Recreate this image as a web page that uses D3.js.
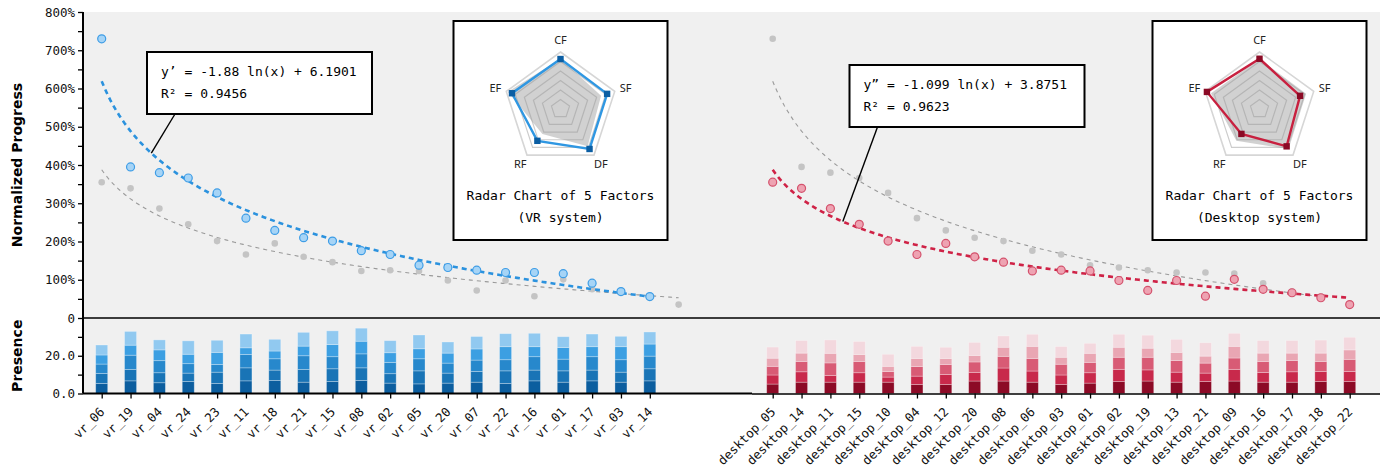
<!DOCTYPE html>
<html>
<head>
<meta charset="utf-8">
<script src="https://cdn.jsdelivr.net/npm/d3@7"></script>
<style>
  body { margin: 0; background: #fff; }
  svg { display: block; }
</style>
</head>
<body>
<svg id="chart"></svg>
<script>
// participants, ordered as on the x axis
const vrNames = ['vr_06', 'vr_19', 'vr_04', 'vr_24', 'vr_23', 'vr_11', 'vr_18', 'vr_21', 'vr_15', 'vr_08',
    'vr_02', 'vr_05', 'vr_20', 'vr_07', 'vr_22', 'vr_16', 'vr_01', 'vr_17', 'vr_03', 'vr_14']
const deskNames = ['desktop_05', 'desktop_14', 'desktop_11', 'desktop_15', 'desktop_10', 'desktop_04', 'desktop_12',
    'desktop_20', 'desktop_08', 'desktop_06', 'desktop_03', 'desktop_01', 'desktop_02', 'desktop_19', 'desktop_13',
    'desktop_21', 'desktop_09', 'desktop_16', 'desktop_17', 'desktop_18', 'desktop_22']

// normalized progress (%)
const vrProgress = [730, 395, 380, 366, 327, 261, 229, 210, 201, 176, 166, 138, 132, 125, 119, 119, 116, 91, 69, 56]
const deskProgress = [355, 339, 286, 245, 201, 166, 195, 160, 146, 123, 125, 123, 98, 72, 98, 57, 101, 75, 66, 53, 35]

// log fits y = a ln(x) + b  (shown in the callouts)
const vrFit = [-1.88, 6.1901, 0.9456]
const deskFit = [-1.099, 3.8751, 0.9623]

// presence, 5 stacked parts per participant (bottom -> top)
const vrPresence = [
    [5.3, 5.3, 5.0, 4.8, 5.3], [6.7, 6.0, 7.6, 5.3, 7.3], [5.7, 5.3, 6.4, 5.7, 5.3], [6.4, 4.4, 5.0, 5.0, 7.1],
    [5.3, 6.0, 4.1, 6.4, 6.4], [6.7, 6.9, 7.1, 3.5, 7.3], [6.9, 5.5, 6.0, 4.1, 6.2], [6.0, 6.7, 7.3, 5.1, 7.3],
    [6.4, 6.7, 6.4, 6.4, 7.3], [6.9, 6.7, 7.4, 6.7, 6.9], [5.5, 5.0, 6.0, 5.1, 6.4], [5.1, 6.9, 6.4, 5.3, 7.3],
    [5.5, 5.3, 5.3, 5.3, 5.9], [6.0, 5.7, 6.0, 5.9, 6.6], [5.3, 6.7, 5.9, 6.9, 6.9], [6.7, 5.7, 7.1, 5.3, 7.1],
    [6.0, 6.0, 6.2, 6.2, 5.7], [6.7, 5.7, 7.1, 5.3, 6.7], [6.0, 5.3, 6.6, 6.9, 5.5], [6.7, 6.4, 6.7, 6.4, 6.4]
]
const deskPresence = [
    [5.0, 4.8, 4.6, 4.3, 5.9], [6.0, 5.5, 5.5, 4.4, 6.7], [6.0, 3.5, 6.7, 5.1, 7.1], [6.0, 5.0, 6.0, 3.7, 6.9],
    [6.0, 2.7, 3.0, 2.7, 6.4], [4.8, 4.4, 5.1, 4.3, 6.4], [4.8, 5.3, 5.3, 3.2, 5.9], [6.6, 4.6, 5.5, 3.5, 6.9],
    [6.6, 6.9, 6.2, 4.8, 6.0], [6.0, 5.9, 6.7, 6.4, 6.4], [4.8, 5.0, 5.7, 3.7, 5.7], [5.5, 5.5, 5.5, 4.8, 5.3],
    [6.4, 6.4, 6.4, 5.3, 6.9], [6.6, 5.9, 6.7, 4.8, 6.9], [6.0, 5.3, 6.2, 4.3, 6.9], [6.4, 4.4, 5.3, 3.7, 7.1],
    [6.6, 6.2, 6.0, 6.2, 6.9], [6.0, 5.1, 5.9, 4.4, 6.7], [6.0, 5.5, 6.0, 3.9, 6.7], [6.4, 5.3, 5.3, 4.4, 6.9],
    [6.4, 5.3, 6.4, 5.0, 6.7]
]

// radar (1-7 scale)
const factors = ['CF', 'SF', 'DF', 'RF', 'EF']
const vrRadar = [6.26, 6.16, 6.2, 5.14, 6.37]
const deskRadar = [6.29, 5.49, 5.86, 4.24, 6.82]

const progressTicks = d3.range(0, 801, 50)
const presenceTicks = [0, 10, 20, 30]

const width = 1380
const height = 472
const plotLeft = 83
const plotTop = 12
const midY = 318
const baseY = 393.5
const mono = '"DejaVu Sans Mono", monospace'

const blues = ['#0c5e9f', '#1974b6', '#2788cc', '#3c9fe2', '#91c9f0']
const reds = ['#8c0a26', '#c8294b', '#d85b75', '#e9a6b3', '#f3d8de']

const svg = d3.select('#chart').attr('width', width).attr('height', height)

svg.append('rect')
    .attr('x', plotLeft).attr('y', plotTop)
    .attr('width', width - plotLeft).attr('height', baseY - plotTop)
    .attr('fill', '#f0f0f0')

const y = d3.scaleLinear().domain([0, 800]).range([midY, plotTop])
const yp = d3.scaleLinear().domain([0, 40]).range([baseY, midY])

const xVr = d3.scalePoint().domain(vrNames).range([101.7, 649.8])
const xDesk = d3.scalePoint().domain(deskNames).range([772.7, 1349.7])
// rank index scales (fits use x = 1..n)
const iVr = d3.scaleLinear().domain([1, vrNames.length]).range(xVr.range())
const iDesk = d3.scaleLinear().domain([1, deskNames.length]).range(xDesk.range())

const fitCurve = (fit, n, xs) => d3.line()
    .x(d => xs(d))
    .y(d => y(100 * (fit[0] * Math.log(d) + fit[1])))(d3.range(1, n + 0.001, 0.1))

function panel(opts) {
    const g = svg.append('g')
    // other system in gray
    g.append('path')
        .attr('d', fitCurve(opts.otherFit, opts.otherVals.length, opts.xs))
        .attr('fill', 'none').attr('stroke', '#9a9a9a').attr('stroke-width', 1.1)
        .attr('stroke-dasharray', '4,4')
    g.selectAll('.gp').data(opts.otherVals).enter().append('circle')
        .attr('cx', (d, i) => opts.xs(i + 1))
        .attr('cy', d => y(d))
        .attr('r', 3.3)
        .attr('fill', '#c4c4c4')

    g.append('path')
        .attr('d', fitCurve(opts.fit, opts.vals.length, opts.xs))
        .attr('fill', 'none').attr('stroke', opts.line).attr('stroke-width', 2.6)
        .attr('stroke-dasharray', '5,4')
    g.selectAll('.cp').data(opts.vals).enter().append('circle')
        .attr('cx', (d, i) => opts.xs(i + 1))
        .attr('cy', d => y(d))
        .attr('r', 4)
        .attr('fill', opts.dotFill)
        .attr('stroke', opts.dotStroke)
        .attr('stroke-width', 1.2)

    // callout
    const b = opts.box
    const ax = opts.xs(opts.anchor)
    const ay = y(100 * (opts.fit[0] * Math.log(opts.anchor) + opts.fit[1]))
    g.append('line')
        .attr('x1', b.x + 28).attr('y1', b.y + b.h)
        .attr('x2', ax).attr('y2', ay)
        .attr('stroke', '#000').attr('stroke-width', 1.4)
    g.append('rect')
        .attr('x', b.x).attr('y', b.y).attr('width', b.w).attr('height', b.h)
        .attr('fill', '#fff').attr('stroke', '#000').attr('stroke-width', 2)
    g.append('text')
        .attr('x', b.x + 14).attr('y', b.y + 24)
        .attr('font-family', mono).attr('font-size', 13)
        .text(`${opts.sym} = ${opts.fit[0]} ln(x) + ${opts.fit[1]}`)
    g.append('text')
        .attr('x', b.x + 14).attr('y', b.y + 46)
        .attr('font-family', mono).attr('font-size', 13)
        .text(`R² = ${opts.fit[2]}`)

    // presence bars
    const bars = g.selectAll('.bar').data(opts.presence).enter().append('g')
        .attr('transform', (d, i) => `translate(${opts.xs(i + 1) - 6},0)`)
    bars.selectAll('rect').data(d => {
        let acc = 0
        return d.map((v, k) => { const s = { y0: acc, y1: acc + v, k: k }; acc += v; return s })
    }).enter().append('rect')
        .attr('x', 0)
        .attr('width', 12)
        .attr('y', d => yp(d.y1))
        .attr('height', d => yp(d.y0) - yp(d.y1))
        .attr('fill', d => opts.stack[d.k])
        .attr('stroke', 'rgba(255,255,255,0.35)')
        .attr('stroke-width', 0.8)

    // radar
    const r = opts.radar
    const rg = g.append('g').attr('transform', `translate(${r.x},${r.y})`)
    rg.append('rect').attr('width', 214).attr('height', 219)
        .attr('fill', '#fff').attr('stroke', '#000').attr('stroke-width', 2)
    const cx = 107, cy = 88
    const rs = d3.scaleLinear().domain([1, 7]).range([0, 57])
    const ang = i => i * 2 * Math.PI / factors.length
    const pt = (v, i) => [cx + rs(v) * Math.sin(ang(i)), cy - rs(v) * Math.cos(ang(i))]
    const poly = d3.line().curve(d3.curveLinearClosed)
    d3.range(2, 8).forEach(lv => {
        rg.append('path')
            .attr('d', poly(factors.map((f, i) => pt(lv, i))))
            .attr('fill', 'none')
            .attr('stroke', lv === 7 ? '#d6d6d6' : '#cdcdcd')
            .attr('stroke-width', lv === 7 ? 1.6 : 1.2)
    })
    rg.append('path')
        .attr('d', poly(opts.otherRadar.map(pt)))
        .attr('fill', '#9a9a9a').attr('fill-opacity', 0.45)
    rg.append('path')
        .attr('d', poly(opts.radarVals.map(pt)))
        .attr('fill', 'none').attr('stroke', opts.radarLine).attr('stroke-width', 2.4)
    rg.selectAll('.mk').data(opts.radarVals).enter().append('rect')
        .attr('x', (d, i) => pt(d, i)[0] - 3.2)
        .attr('y', (d, i) => pt(d, i)[1] - 3.2)
        .attr('width', 6.4).attr('height', 6.4)
        .attr('fill', opts.radarMark)
    rg.selectAll('.lb').data(factors).enter().append('text')
        .attr('x', (d, i) => cx + 68.5 * Math.sin(ang(i)))
        .attr('y', (d, i) => cy - 68.5 * Math.cos(ang(i)))
        .attr('dy', '0.35em')
        .attr('text-anchor', 'middle')
        .attr('font-family', '"Noto Sans", sans-serif').attr('font-size', 11)
        .attr('fill', '#222')
        .text(d => d)
    rg.append('text').attr('x', cx).attr('y', 179)
        .attr('text-anchor', 'middle').attr('font-family', mono).attr('font-size', 13)
        .text('Radar Chart of 5 Factors')
    rg.append('text').attr('x', cx).attr('y', 201)
        .attr('text-anchor', 'middle').attr('font-family', mono).attr('font-size', 13)
        .text(opts.radarTitle)
}

panel({
    xs: iVr, vals: vrProgress, fit: vrFit, otherVals: deskProgress, otherFit: deskFit,
    line: '#2b92de', dotFill: '#a6d4f6', dotStroke: '#3e9de6', sym: 'y’', anchor: 2.72,
    box: { x: 147, y: 52, w: 225, h: 62 }, presence: vrPresence, stack: blues,
    radar: { x: 453.5, y: 21 }, radarVals: vrRadar, otherRadar: deskRadar,
    radarLine: '#2f97e2', radarMark: '#0b5ea3', radarTitle: '(VR system)'
})
panel({
    xs: iDesk, vals: deskProgress, fit: deskFit, otherVals: vrProgress, otherFit: vrFit,
    line: '#cf2246', dotFill: '#eea3b2', dotStroke: '#d4526d', sym: 'y”', anchor: 3.43,
    box: { x: 849.5, y: 65, w: 235, h: 62 }, presence: deskPresence, stack: reds,
    radar: { x: 1152.5, y: 21 }, radarVals: deskRadar, otherRadar: vrRadar,
    radarLine: '#c8203f', radarMark: '#8b0a25', radarTitle: '(Desktop system)'
})

// axes
const yAxis = svg.append('g')
    .attr('transform', `translate(${plotLeft},0)`)
    .call(d3.axisLeft(y).tickValues(progressTicks).tickSize(5)
        .tickFormat(d => d % 100 ? '' : (d === 0 ? '0' : d + '%')))
const pAxis = svg.append('g')
    .attr('transform', `translate(${plotLeft},0)`)
    .call(d3.axisLeft(yp).tickValues(presenceTicks).tickSize(5)
        .tickFormat(d => d % 20 ? '' : d.toFixed(1)))
const xa1 = svg.append('g')
    .attr('transform', `translate(0,${baseY})`)
    .call(d3.axisBottom(xVr).tickSize(5))
const xa2 = svg.append('g')
    .attr('transform', `translate(0,${baseY})`)
    .call(d3.axisBottom(xDesk).tickSize(5))

;[yAxis, pAxis, xa1, xa2].forEach(a => {
    a.select('.domain').remove()
    a.selectAll('.tick line').attr('stroke', '#000').attr('stroke-width', 1.3)
    a.selectAll('text').attr('font-family', mono).attr('font-size', 12.5).attr('fill', '#111')
})
;[xa1, xa2].forEach(a => {
    a.selectAll('.tick text')
        .attr('x', 0).attr('y', 0).attr('dy', '0.35em')
        .attr('transform', 'translate(0,16) rotate(-45)')
        .attr('text-anchor', 'end')
})

svg.append('line').attr('x1', plotLeft).attr('x2', plotLeft).attr('y1', plotTop).attr('y2', baseY)
    .attr('stroke', '#000').attr('stroke-width', 2)
svg.append('line').attr('x1', plotLeft).attr('x2', width).attr('y1', midY).attr('y2', midY)
    .attr('stroke', '#000').attr('stroke-width', 1.5)
svg.append('line').attr('x1', plotLeft).attr('x2', 752).attr('y1', baseY).attr('y2', baseY)
    .attr('stroke', '#000').attr('stroke-width', 2)
svg.append('line').attr('x1', 752).attr('x2', width).attr('y1', baseY + 0.5).attr('y2', baseY + 0.5)
    .attr('stroke', '#000').attr('stroke-width', 1.5)

svg.append('text')
    .attr('transform', `translate(22,${(plotTop + midY) / 2}) rotate(-90)`)
    .attr('text-anchor', 'middle')
    .attr('font-family', '"DejaVu Sans", sans-serif').attr('font-weight', 'bold').attr('font-size', 14)
    .text('Normalized Progress')
svg.append('text')
    .attr('transform', `translate(22,${(midY + baseY) / 2}) rotate(-90)`)
    .attr('text-anchor', 'middle')
    .attr('font-family', '"DejaVu Sans", sans-serif').attr('font-weight', 'bold').attr('font-size', 14)
    .text('Presence')
</script>
</body>
</html>
